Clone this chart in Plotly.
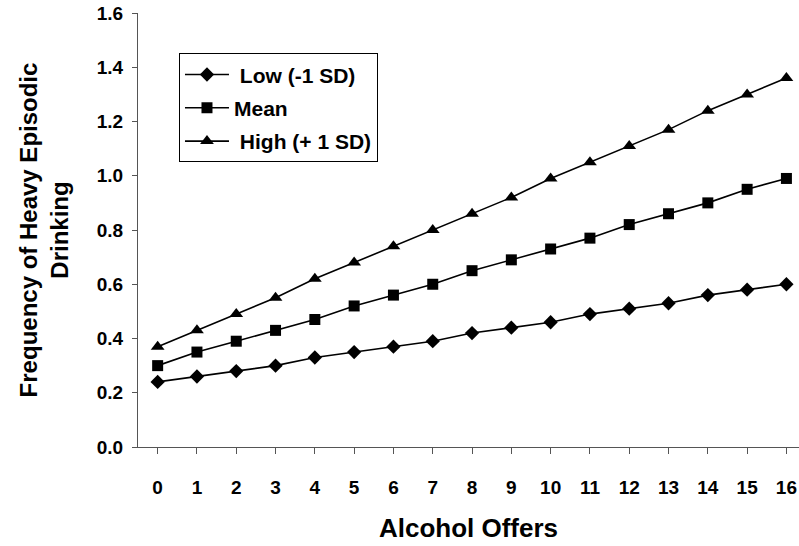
import plotly.graph_objects as go

offers = list(range(17))
tick_labels = [str(v) for v in offers]
low = [0.24, 0.26, 0.28, 0.30, 0.33, 0.35, 0.37, 0.39, 0.42, 0.44, 0.46, 0.49, 0.51, 0.53, 0.56, 0.58, 0.60]
mean = [0.30, 0.35, 0.39, 0.43, 0.47, 0.52, 0.56, 0.60, 0.65, 0.69, 0.73, 0.77, 0.82, 0.86, 0.90, 0.95, 0.99]
high = [0.37, 0.43, 0.49, 0.55, 0.62, 0.68, 0.74, 0.80, 0.86, 0.92, 0.99, 1.05, 1.11, 1.17, 1.24, 1.30, 1.36]

names = ["\u00a0Low (-1 SD)", "Mean", "\u00a0High (+ 1 SD)"]
symbols = ["diamond", "square", "triangle-up"]
sizes = [11, 11, 12]

fig = go.Figure()
for i, (name, ys, sym, sz) in enumerate(zip(names, [low, mean, high], symbols, sizes)):
    fig.add_trace(go.Scatter(
        x=offers, y=ys, name=name, mode="lines+markers", legendgroup=f"g{i}",
        line=dict(color="black", width=1.6),
        marker=dict(symbol=sym, size=sz, color="black"),
    ))

font_family = "Liberation Sans, Arial, sans-serif"
fig.update_layout(
    width=799, height=546,
    margin=dict(l=138, r=0, t=13, b=99, autoexpand=False),
    paper_bgcolor="white", plot_bgcolor="white",
    font=dict(family=font_family, color="black"),
    showlegend=True,
    legend=dict(
        x=0.062, y=0.907, xanchor="left", yanchor="top",
        bordercolor="black", borderwidth=1, bgcolor="white",
        font=dict(size=21, family=font_family, color="black", weight="bold"),
        itemwidth=44, tracegroupgap=3,
    ),
    xaxis=dict(
        range=[-0.5, 16.32], tickmode="array", tickvals=offers, ticktext=tick_labels,
        showgrid=False, zeroline=False, showline=True, linecolor="#555", linewidth=1,
        ticks="outside", ticklen=6, tickcolor="#555",
        tickson="boundaries", ticklabelstandoff=17, automargin=False,
        ticklabeloverflow="allow",
        tickfont=dict(size=19, weight="bold"),
        title=dict(text="Alcohol Offers", font=dict(size=26, weight="bold"), standoff=22),
    ),
    yaxis=dict(
        range=[0, 1.6], tickvals=[0, 0.2, 0.4, 0.6, 0.8, 1.0, 1.2, 1.4, 1.6],
        tickformat=".1f", automargin=False, ticklabeloverflow="allow",
        showgrid=False, zeroline=False, showline=True, linecolor="#555", linewidth=1,
        ticks="outside", ticklen=5, tickcolor="#555", ticklabelstandoff=5,
        tickfont=dict(size=19, weight="bold"),
        title=dict(text="Frequency of Heavy Episodic<br>Drinking", font=dict(size=24, weight="bold"), standoff=21),
    ),
)

fig.write_html("out.html", config={"displayModeBar": False},
               post_script="document.body.style.margin='0';")
